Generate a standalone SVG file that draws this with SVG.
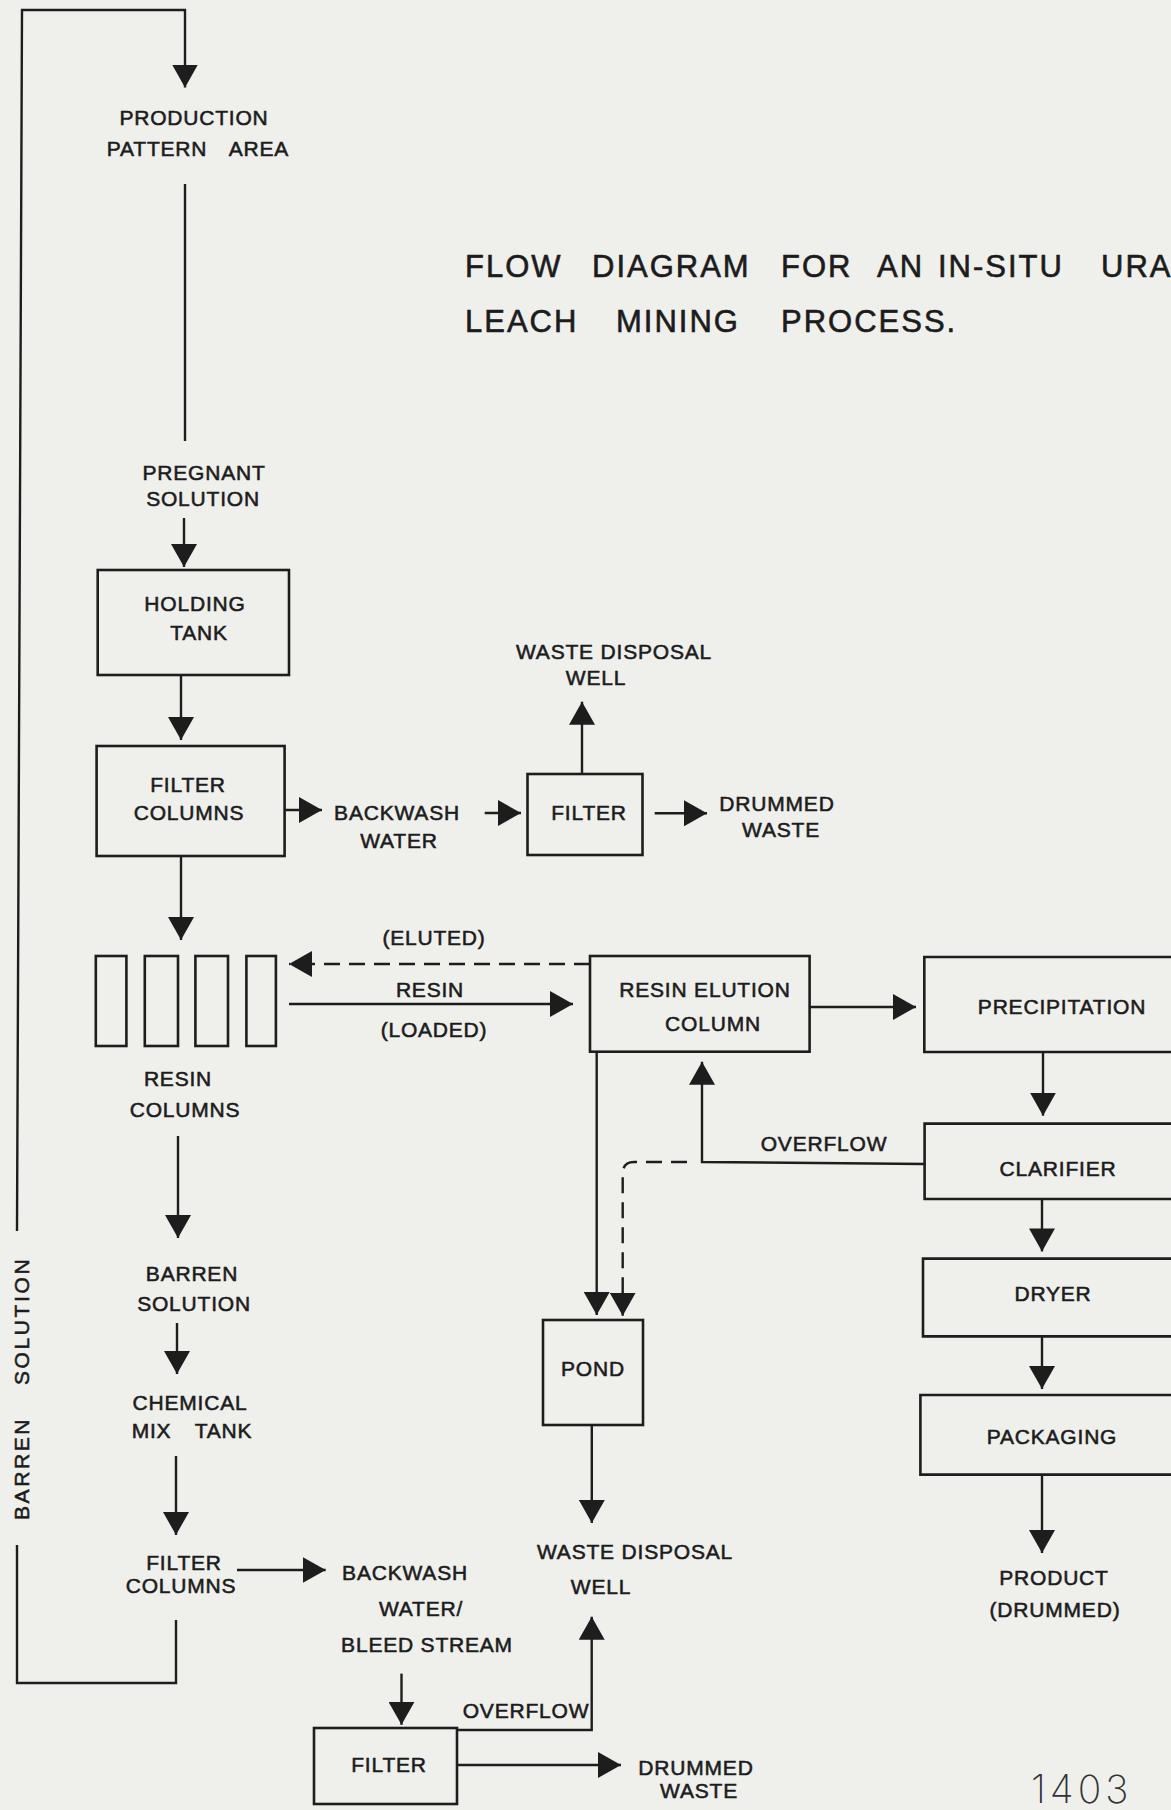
<svg xmlns="http://www.w3.org/2000/svg" width="1171" height="1810" viewBox="0 0 1171 1810">
<defs>
<marker id="ah" markerUnits="userSpaceOnUse" markerWidth="24" markerHeight="26" refX="23" refY="13" orient="auto" viewBox="0 0 24 26"><path d="M0,0 L23,13 L0,26 Z" fill="#1d1d1d"/></marker>
</defs>
<style>
.bg{fill:#efefec}
.box{fill:none;stroke:#1d1d1d;stroke-width:2.6}
.ln{fill:none;stroke:#1d1d1d;stroke-width:2.4}
.arr{marker-end:url(#ah)}
.dash{stroke-dasharray:16 9}
.t{font-family:"Liberation Sans",Arial,sans-serif;font-size:21px;fill:#1c1c1c;stroke:#1c1c1c;stroke-width:0.55px;letter-spacing:0.8px;text-anchor:middle}
.title{font-size:31px;letter-spacing:2px;text-anchor:start;stroke-width:0.6px}
</style>
<rect class="bg" x="0" y="0" width="1171" height="1810"/>

<g id="title" class="t title">
<text y="277"><tspan x="465">FLOW</tspan><tspan x="592">DIAGRAM</tspan><tspan x="781">FOR</tspan><tspan x="877">AN</tspan><tspan x="938">IN-SITU</tspan><tspan x="1101">URA</tspan></text>
<text y="332"><tspan x="465">LEACH</tspan><tspan x="616">MINING</tspan><tspan x="781">PROCESS.</tspan></text>
</g>

<g id="production-pattern-area" class="t">
<text x="194" y="125">PRODUCTION</text>
<text x="198" y="156" word-spacing="16">PATTERN AREA</text>
</g>
<g id="pregnant-solution" class="t">
<text x="204" y="480">PREGNANT</text>
<text x="203" y="506">SOLUTION</text>
</g>
<g id="holding-tank">
<rect class="box" x="97.7" y="570" width="191.3" height="105"/>
<text class="t" x="195" y="611">HOLDING</text>
<text class="t" x="199" y="640">TANK</text>
</g>
<g id="filter-columns-1">
<rect class="box" x="96.6" y="746" width="188" height="110"/>
<text class="t" x="188" y="792">FILTER</text>
<text class="t" x="189" y="820">COLUMNS</text>
</g>
<g id="backwash-water" class="t">
<text x="397" y="820">BACKWASH</text>
<text x="399" y="848">WATER</text>
</g>
<g id="filter-1">
<rect class="box" x="527.5" y="774" width="115" height="81"/>
<text class="t" x="589" y="820">FILTER</text>
</g>
<g id="waste-disposal-well-1" class="t">
<text x="614" y="659">WASTE DISPOSAL</text>
<text x="596" y="685">WELL</text>
</g>
<g id="drummed-waste-1" class="t">
<text x="777" y="811">DRUMMED</text>
<text x="781" y="837">WASTE</text>
</g>
<g id="resin-columns">
<rect class="box" x="95.8" y="956" width="30.6" height="90"/>
<rect class="box" x="144.8" y="956" width="33.2" height="90"/>
<rect class="box" x="195.4" y="956" width="32.6" height="90"/>
<rect class="box" x="246.4" y="956" width="29.5" height="90"/>
<text class="t" x="178" y="1086">RESIN</text>
<text class="t" x="185" y="1117">COLUMNS</text>
</g>
<g id="resin-elution-column">
<rect class="box" x="590" y="956" width="219.6" height="95.7"/>
<text class="t" x="705" y="997">RESIN ELUTION</text>
<text class="t" x="713" y="1031">COLUMN</text>
</g>
<g id="precipitation">
<path class="box" d="M1172,957 H924.3 V1052 H1172"/>
<text class="t" x="1062" y="1014">PRECIPITATION</text>
</g>
<g id="clarifier">
<path class="box" d="M1172,1123.6 H924.6 V1199 H1172"/>
<text class="t" x="1058" y="1176">CLARIFIER</text>
</g>
<g id="dryer">
<path class="box" d="M1172,1258.6 H923 V1336.4 H1172"/>
<text class="t" x="1053" y="1301">DRYER</text>
</g>
<g id="packaging">
<path class="box" d="M1172,1395 H920.4 V1474.6 H1172"/>
<text class="t" x="1052" y="1444">PACKAGING</text>
</g>
<g id="product" class="t">
<text x="1054" y="1585">PRODUCT</text>
<text x="1055" y="1617">(DRUMMED)</text>
</g>
<g id="pond">
<rect class="box" x="543" y="1320" width="100" height="105"/>
<text class="t" x="593" y="1376">POND</text>
</g>
<g id="waste-disposal-well-2" class="t">
<text x="635" y="1559">WASTE DISPOSAL</text>
<text x="601" y="1594">WELL</text>
</g>
<g id="barren-solution" class="t">
<text x="192" y="1281">BARREN</text>
<text x="194" y="1311">SOLUTION</text>
</g>
<g id="chemical-mix-tank" class="t">
<text x="190" y="1410">CHEMICAL</text>
<text x="192" y="1438" word-spacing="17">MIX TANK</text>
</g>
<g id="filter-columns-2" class="t">
<text x="184" y="1570">FILTER</text>
<text x="181" y="1593">COLUMNS</text>
</g>
<g id="backwash-bleed" class="t">
<text x="405" y="1580">BACKWASH</text>
<text x="421" y="1616">WATER/</text>
<text x="427" y="1652">BLEED STREAM</text>
</g>
<g id="filter-2">
<rect class="box" x="314" y="1728" width="143" height="76"/>
<text class="t" x="389" y="1772">FILTER</text>
</g>
<g id="drummed-waste-2" class="t">
<text x="696" y="1775">DRUMMED</text>
<text x="699" y="1798">WASTE</text>
</g>
<g id="page-number">
<text x="1031" y="1803" style="font-family:Inter,'Liberation Sans',sans-serif;font-size:39px;font-weight:200;fill:#333;letter-spacing:4px">1403</text>
</g>

<g id="connectors">
<path class="ln" d="M176,1620 V1683 H17 V1545"/>
<path class="ln arr" d="M17,1231 L22,10 H185 V87.5"/>
<path class="ln" d="M185,184 V441"/>
<path class="ln arr" d="M184,518 V567"/>
<path class="ln arr" d="M181,675 V740"/>
<path class="ln arr" d="M284.7,810 H322"/>
<path class="ln arr" d="M484.7,813 H521"/>
<path class="ln arr" d="M582,774 V701.7"/>
<path class="ln arr" d="M654.7,813.3 H707"/>
<path class="ln arr" d="M181,856 V940"/>
<path class="ln dash arr" d="M590,964 H289"/>
<path class="ln arr" d="M289,1004 H573"/>
<path class="ln arr" d="M809.6,1007 H916"/>
<path class="ln arr" d="M1043,1052 V1115.7"/>
<path class="ln arr" d="M1042,1199 V1251.4"/>
<path class="ln arr" d="M1042,1336.4 V1389"/>
<path class="ln arr" d="M1042,1474.6 V1553"/>
<path class="ln arr" d="M596.7,1051.7 V1315"/>
<path class="ln arr" d="M924.6,1164 L702,1162 V1061.7"/>
<path class="ln dash arr" d="M687,1162 H634 Q622.7,1162 622.7,1174 V1315.7"/>
<path class="ln arr" d="M591.8,1425 V1523"/>
<path class="ln arr" d="M178,1136 V1238"/>
<path class="ln arr" d="M177,1323 V1374"/>
<path class="ln arr" d="M176,1456 V1535"/>
<path class="ln arr" d="M237,1570 H325.7"/>
<path class="ln arr" d="M401.5,1673.6 V1724.8"/>
<path class="ln arr" d="M457,1730 H591.7 V1616.7"/>
<path class="ln arr" d="M457,1765 H621"/>
<text class="t" x="434" y="945">(ELUTED)</text>
<text class="t" x="430" y="997">RESIN</text>
<text class="t" x="434" y="1037">(LOADED)</text>
<text class="t" x="824" y="1151">OVERFLOW</text>
<text class="t" x="526" y="1718">OVERFLOW</text>
<text class="t" transform="translate(29,1520) rotate(-90)" style="text-anchor:start;letter-spacing:2.6px"><tspan x="0" y="0">BARREN</tspan><tspan x="135" y="0">SOLUTION</tspan></text>
</g>
</svg>
